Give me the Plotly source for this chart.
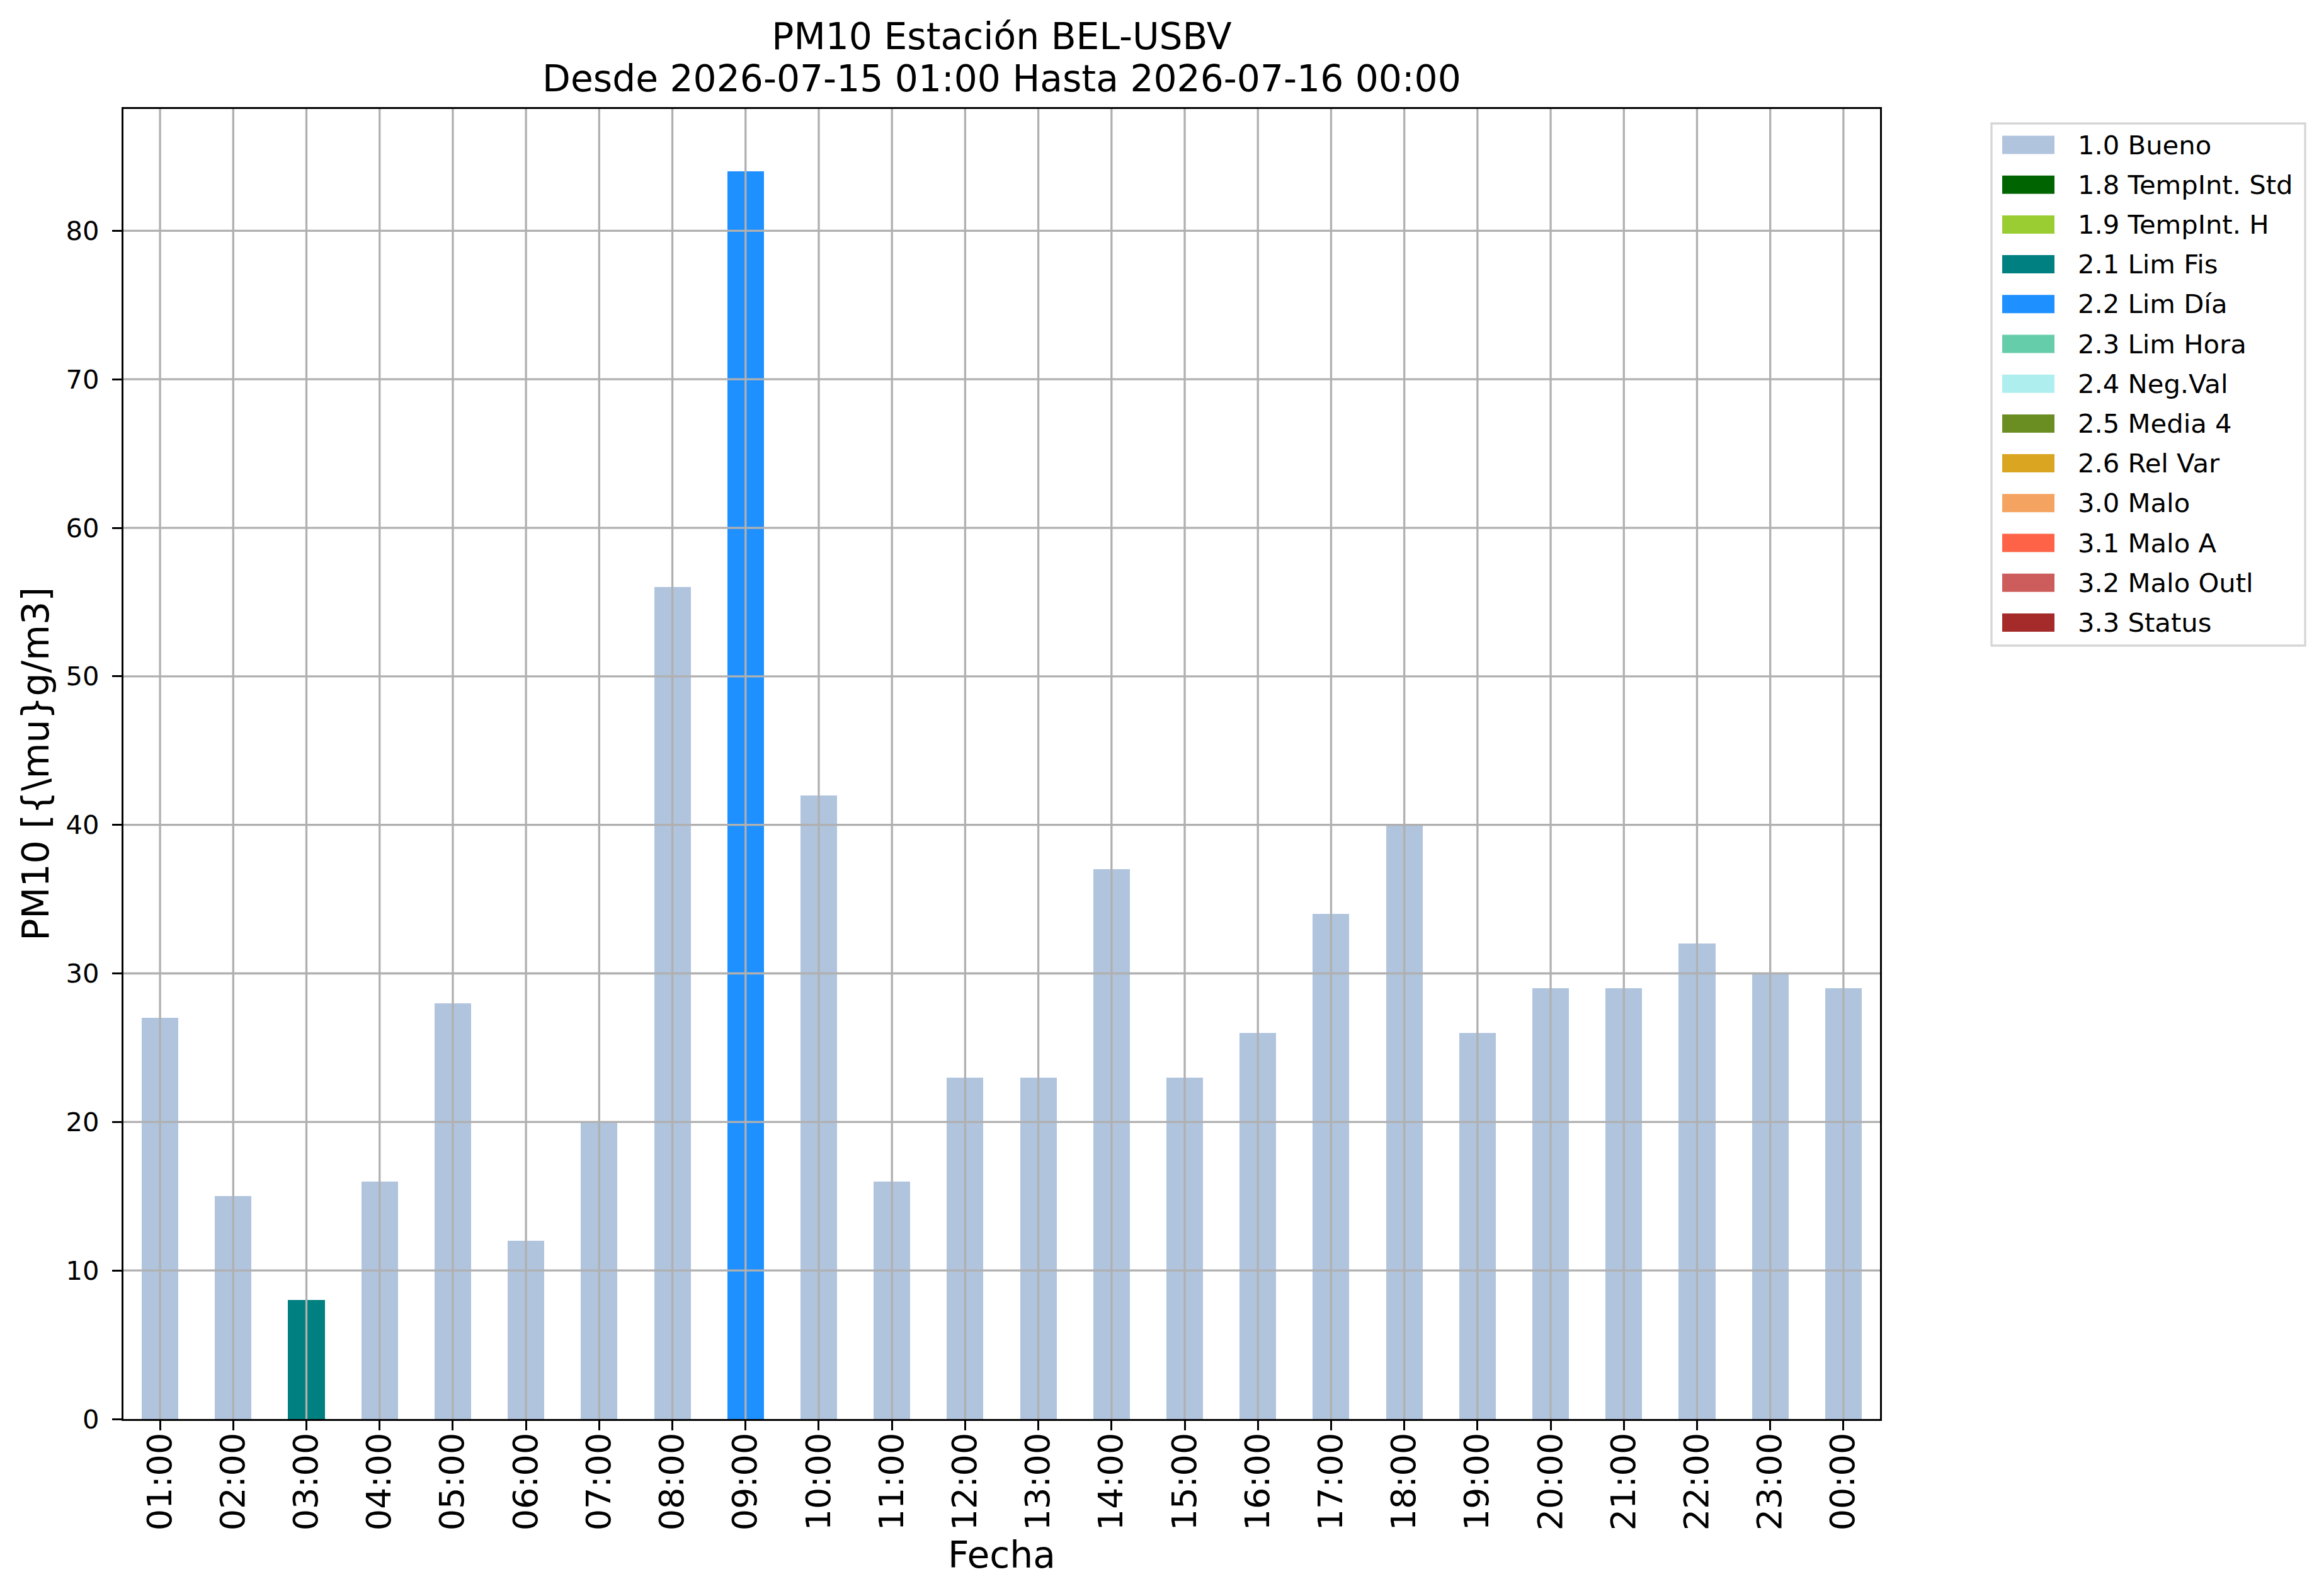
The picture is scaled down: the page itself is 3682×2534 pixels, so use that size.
import plotly.graph_objects as go

hours = ["01:00", "02:00", "03:00", "04:00", "05:00", "06:00", "07:00", "08:00",
         "09:00", "10:00", "11:00", "12:00", "13:00", "14:00", "15:00", "16:00",
         "17:00", "18:00", "19:00", "20:00", "21:00", "22:00", "23:00", "00:00"]
pm10 = [27, 15, 8, 16, 28, 12, 20, 56, 84, 42, 16, 23, 23, 37, 23, 26,
        34, 40, 26, 29, 29, 32, 30, 29]
hour_status = ["1.0 Bueno", "1.0 Bueno", "2.1 Lim Fis", "1.0 Bueno", "1.0 Bueno",
               "1.0 Bueno", "1.0 Bueno", "1.0 Bueno", "2.2 Lim Día", "1.0 Bueno",
               "1.0 Bueno", "1.0 Bueno", "1.0 Bueno", "1.0 Bueno", "1.0 Bueno",
               "1.0 Bueno", "1.0 Bueno", "1.0 Bueno", "1.0 Bueno", "1.0 Bueno",
               "1.0 Bueno", "1.0 Bueno", "1.0 Bueno", "1.0 Bueno"]
status_labels = ["1.0 Bueno", "1.8 TempInt. Std", "1.9 TempInt. H", "2.1 Lim Fis",
                 "2.2 Lim Día", "2.3 Lim Hora", "2.4 Neg.Val", "2.5 Media 4",
                 "2.6 Rel Var", "3.0 Malo", "3.1 Malo A", "3.2 Malo Outl", "3.3 Status"]
status_colors = ["#B0C4DE", "#006400", "#9ACD32", "#008080", "#1E90FF", "#66CDAA",
                 "#AFEEEE", "#6B8E23", "#DAA520", "#F4A460", "#FF6347", "#CD5C5C",
                 "#A52A2A"]
y_ticks = [0, 10, 20, 30, 40, 50, 60, 70, 80]
title_line1 = "PM10 Estación BEL-USBV"
title_line2 = "Desde 2026-07-15 01:00 Hasta 2026-07-16 00:00"

FONT = "DejaVu Sans"
W, H = 3682, 2534
L, R, T, B = 188, 705, 165, 289
PW, PH = W - L - R, H - T - B


def px_x(px):
    return (px - L) / PW


def px_y(py):
    return (H - B - py) / PH


fig = go.Figure()
for lab, col in zip(status_labels, status_colors):
    ys = [v if s == lab else 0 for v, s in zip(pm10, hour_status)]
    fig.add_trace(go.Bar(
        x=hours, y=ys, name=lab, width=0.5, showlegend=False,
        marker=dict(color=col, line=dict(width=0)),
    ))

ymax = max(pm10) * 1.05

shapes = []
grid_col = "#b0b0b0"
for h in hours:
    shapes.append(dict(type="line", xref="x", yref="paper", x0=h, x1=h, y0=0, y1=1,
                       line=dict(color=grid_col, width=3.3), layer="above"))
for t in y_ticks:
    if t == 0:
        continue
    shapes.append(dict(type="line", xref="paper", yref="y", x0=0, x1=1, y0=t, y1=t,
                       line=dict(color=grid_col, width=3.3), layer="above"))

# legend box (matplotlib-style, outside the axes on the right)
leg_l, leg_r, leg_t, leg_b = 3154, 3652, 188, 1017
row0, row_step = 222, 63.2
patch_l, patch_r, patch_h = 3171, 3254, 29
text_x = 3289
shapes.append(dict(type="rect", xref="paper", yref="paper",
                   x0=px_x(leg_l), x1=px_x(leg_r), y0=px_y(leg_b), y1=px_y(leg_t),
                   line=dict(color="#d6d6d6", width=3.3), fillcolor="white",
                   layer="above"))
annotations = []
for i, (lab, col) in enumerate(zip(status_labels, status_colors)):
    cy = row0 + i * row_step
    shapes.append(dict(type="rect", xref="paper", yref="paper",
                       x0=px_x(patch_l), x1=px_x(patch_r),
                       y0=px_y(cy + patch_h / 2), y1=px_y(cy - patch_h / 2),
                       line=dict(width=0), fillcolor=col, layer="above"))
    annotations.append(dict(text=lab, xref="paper", yref="paper",
                            x=px_x(text_x), y=px_y(cy), xanchor="left", yanchor="middle",
                            showarrow=False,
                            font=dict(family=FONT, size=41.7, color="black")))

# second title line
annotations.append(dict(text=title_line2, xref="paper", yref="paper",
                        x=0.5, y=px_y(117), xanchor="center", yanchor="middle",
                        showarrow=False,
                        font=dict(family=FONT, size=58.3, color="black")))

fig.update_layout(
    width=W, height=H,
    margin=dict(l=L, r=R, t=T, b=B, pad=0),
    paper_bgcolor="white", plot_bgcolor="white",
    barmode="stack",
    font=dict(family=FONT, color="black", size=42),
    title=dict(
        text=title_line1,
        x=0.5, xref="paper", xanchor="center",
        y=1 - 50 / H, yref="container", yanchor="middle",
        font=dict(family=FONT, size=58.3, color="black"),
    ),
    shapes=shapes,
    annotations=annotations,
    showlegend=False,
    xaxis=dict(
        type="category", range=[-0.5, len(hours) - 0.5],
        showgrid=False, zeroline=False,
        showline=True, linecolor="black", linewidth=3.3, mirror=True,
        ticks="outside", ticklen=15, tickwidth=3.3, tickcolor="black",
        tickangle=-90, tickfont=dict(family=FONT, size=54),
        ticklabelstandoff=-18,
        title=dict(text="Fecha", font=dict(family=FONT, size=58.3), standoff=19),
    ),
    yaxis=dict(
        range=[0, ymax], tickmode="array", tickvals=y_ticks,
        ticktext=[str(t) for t in y_ticks],
        showgrid=False, zeroline=False,
        showline=True, linecolor="black", linewidth=3.3, mirror=True,
        ticks="outside", ticklen=15, tickwidth=3.3, tickcolor="black",
        tickfont=dict(family=FONT, size=41.7),
        ticklabelstandoff=12,
        title=dict(text="PM10 [{\\mu}g/m3]", font=dict(family=FONT, size=58.3), standoff=9),
    ),
)

fig.write_html("out.html")
